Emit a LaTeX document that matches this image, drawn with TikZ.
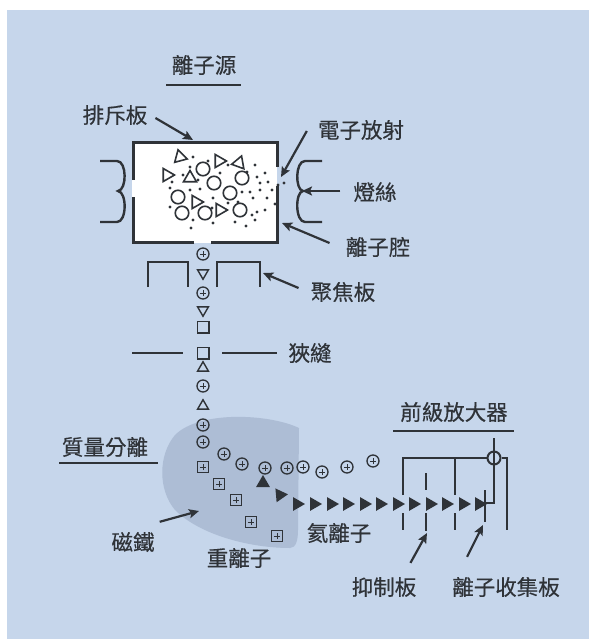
\documentclass[tikz,border=0pt]{standalone}
\usepackage{fontspec}
\newfontfamily\cjk[FakeBold=0.4]{Noto Sans CJK TC}
\usetikzlibrary{arrows.meta, shapes.geometric, calc}
\definecolor{msbg}{HTML}{C6D6EB}
\definecolor{msmagnet}{HTML}{ADBDD5}
\definecolor{msink}{HTML}{2F3338}
\tikzset{
  lbl/.style={font=\cjk\fontsize{21.5}{24}\selectfont, text=msink, inner sep=0pt},
  flow/.style={-{Stealth[length=10pt, width=9pt, inset=2pt]}, line width=2.2pt, draw=msink},
  wire/.style={line width=2.4pt, draw=msink},
  plate/.style={line width=3pt, draw=msink},
  plus/.style={path picture={
      \draw[line width=1pt, msink]
        ([xshift=-3.2pt]path picture bounding box.center) -- ([xshift=3.2pt]path picture bounding box.center)
        ([yshift=-3.2pt]path picture bounding box.center) -- ([yshift=3.2pt]path picture bounding box.center);}},
  ion/.style={circle, draw=msink, line width=1.3pt, minimum size=12pt, inner sep=0pt, plus},
  heavyion/.style={rectangle, draw=msink, line width=1.4pt, minimum size=11.5pt, inner sep=0pt, plus},
  sqion/.style={rectangle, draw=msink, line width=1.5pt, minimum size=11.5pt, inner sep=0pt},
  tri/.style={regular polygon, regular polygon sides=3, draw=msink, line width=1.6pt,
              minimum size=15pt, inner sep=0pt},
  smalltri/.style={tri, minimum size=12.5pt, line width=1.4pt},
  ring/.style={circle, draw=msink, line width=1.6pt, minimum size=13.5pt, inner sep=0pt},
  heion/.style={regular polygon, regular polygon sides=3, fill=msink, minimum size=16pt,
                inner sep=0pt, shape border rotate=-90},
  dot/.style={circle, fill=msink, minimum size=3.2pt, inner sep=0pt},
}

\begin{document}
\begin{tikzpicture}[x=1pt, y=-1pt]
  \useasboundingbox (0,0) rectangle (589,639);
  \fill[msbg] (7,10) rectangle (589,639);

  % Magnet behind the beam
  \fill[msmagnet] (299,428) .. controls (270,414) and (200,410) .. (175,435)
    .. controls (158,455) and (158,490) .. (175,510)
    .. controls (200,535) and (250,548) .. (290,548)
    .. controls (296,548) and (298,540) .. (298,530) -- cycle;

  % Ion source chamber
  \node[fill=white, minimum width=145pt, minimum height=100pt, inner sep=0pt] (chamber) at (204.5,193) {};
  \draw[plate] (133,180) -- (133,143) -- (277,143) -- (277,167);
  \draw[plate] (277,186) -- (277,242) -- (211,242);
  \draw[plate] (194,242) -- (133,242) -- (133,197);

  % Filaments
  \draw[wire] (100,161) -- (117,161) .. controls (127,161) and (127,190) .. (118,191)
    .. controls (127,192) and (127,222) .. (117,222) -- (100,222);
  \draw[wire] (322,161) -- (305,161) .. controls (295,161) and (295,190) .. (303,191)
    .. controls (295,192) and (295,222) .. (305,222) -- (322,222);

  % Gas in the chamber
  \foreach \x/\y/\r [count=\i] in {180/157/15, 219/161/-90, 239/163/-20, 167/175/-90,
      190/178/0, 196/202/-90, 220/210/-90}
    \node[tri, shape border rotate=\r] (t\i) at (\x,\y) {};
  \foreach \x/\y [count=\i] in {203/169, 214/183, 242/178, 230/193, 178/197, 182/213,
      205/213, 240/210}
    \node[ring] (r\i) at (\x,\y) {};
  \foreach \x/\y [count=\i] in {193/157, 208/161, 228/165, 255/165, 190/167, 220/173,
      247/172, 257/177, 265/173, 183/175, 198/180, 172/182, 260/183, 268/182, 278/185,
      170/188, 190/190, 200/189, 242/192, 250/192, 260/190, 272/190, 213/198, 228/203,
      238/202, 253/198, 267/198, 170/207, 212/208, 257/212, 265/210, 252/215, 193/220,
      213/223, 235/222, 255/220, 191/228, 284/183, 275/204, 246/226}
    \node[dot] (d\i) at (\x,\y) {};

  % Focus plates and slit
  \draw[wire] (148,287) -- (148,262) -- (188,262) -- (188,287);
  \draw[wire] (217,287) -- (217,262) -- (260,262) -- (260,287);
  \draw[wire] (132,353) -- (183,353);
  \draw[wire] (222,353) -- (277,353);

  % Beam leaving the source
  \node[ion] (b1) at (203,254) {};
  \node[smalltri, shape border rotate=180] (b2) at (203,273) {};
  \node[ion] (b3) at (203,293) {};
  \node[smalltri, shape border rotate=180] (b4) at (203,310) {};
  \node[sqion] (b5) at (203,327) {};
  \node[sqion] (b6) at (203,353) {};
  \node[smalltri] (b7) at (203,368) {};
  \node[ion] (b8) at (203,386) {};
  \node[smalltri] (b9) at (203,406) {};
  \node[ion] (b10) at (203,425) {};
  \node[ion] (b11) at (203,442) {};

  % Heavy, light and helium ions in the field
  \foreach \x/\y [count=\i] in {203/467, 219/484, 236/500, 251/522, 277/536}
    \node[heavyion] (h\i) at (\x,\y) {};
  \foreach \x/\y [count=\i] in {224/454, 242/464, 265/468, 287/468, 303/467, 322/472,
      347/467, 373/461}
    \node[ion] (l\i) at (\x,\y) {};
  \node[heion, shape border rotate=0] (he0) at (263,483) {};
  \node[heion, shape border rotate=-85] (he1) at (280,495) {};
  \foreach \x [count=\i] in {297,314,331,347,364,380,397,413,430,446,463,479}
    \node[heion] (he\i) at (\x,504) {};

  % Suppressor grids, collector and preamplifier
  \node[circle, draw=msink, line width=2pt, minimum size=13pt, inner sep=0pt] (amp) at (494,458) {};
  \draw[wire] (494,438) -- (494,503) -- (485,503);
  \draw[wire] (485,490) -- (485,522);
  \draw[wire] (403,495) -- (403,458) -- (amp.west);
  \draw[wire] (amp.east) -- (507,458) -- (507,530);
  \draw[wire] (403,513) -- (403,530);
  \draw[wire] (426,473) -- (426,490);
  \draw[wire] (426,513) -- (426,531);
  \draw[wire] (455,458) -- (455,495);
  \draw[wire] (455,513) -- (455,530);

  % Labels
  \node[lbl] (src) at (204,65) {離子源};
  \draw[wire, line width=2pt] (166,85) -- (241,85);
  \node[lbl] (repel) at (115,115) {排斥板};
  \node[lbl] (emit) at (361,130) {電子放射};
  \node[lbl] (fil) at (375,192) {燈絲};
  \node[lbl] (chamb) at (378,247) {離子腔};
  \node[lbl] (focus) at (343,292) {聚焦板};
  \node[lbl] (slit) at (310,353) {狹縫};
  \node[lbl] (mass) at (105,447) {質量分離};
  \draw[wire, line width=2pt] (59,463) -- (158,463);
  \node[lbl] (preamp) at (454,412) {前級放大器};
  \draw[wire, line width=2pt] (393,431) -- (514,431);
  \node[lbl] (magnet) at (133,542) {磁鐵};
  \node[lbl] (heavy) at (239,558) {重離子};
  \node[lbl] (helium) at (339,533) {氦離子};
  \node[lbl] (supp) at (384,587) {抑制板};
  \node[lbl] (coll) at (506,587) {離子收集板};

  % Pointers
  \coordinate (repelTip) at (193,140);
  \coordinate (emitTip) at (281,177);
  \coordinate (filTip) at (302,191);
  \coordinate (chambTip) at (282,223);
  \coordinate (focusTip) at (263,273);
  \coordinate (magnetTip) at (199,511);
  \coordinate (suppTip) at (427,533);
  \coordinate (collTip) at (483,525);
  \draw[flow] ([shift={(8,3)}]repel.east) -- (repelTip);
  \draw[flow] ([shift={(-11,1)}]emit.west) -- (emitTip);
  \draw[flow] ([shift={(-13,-1)}]fil.west) -- (filTip);
  \draw[flow] ([shift={(-16,-4)}]chamb.west) -- (chambTip);
  \draw[flow] ([shift={(-12,-4)}]focus.west) -- (focusTip);
  \draw[flow] ([shift={(5,-10)}]magnet.north east) -- (magnetTip);
  \draw[flow] ([shift={(-6,-14)}]supp.north east) -- (suppTip);
  \draw[flow] ([shift={(15,-20)}]coll.north west) -- (collTip);
\end{tikzpicture}
\end{document}
